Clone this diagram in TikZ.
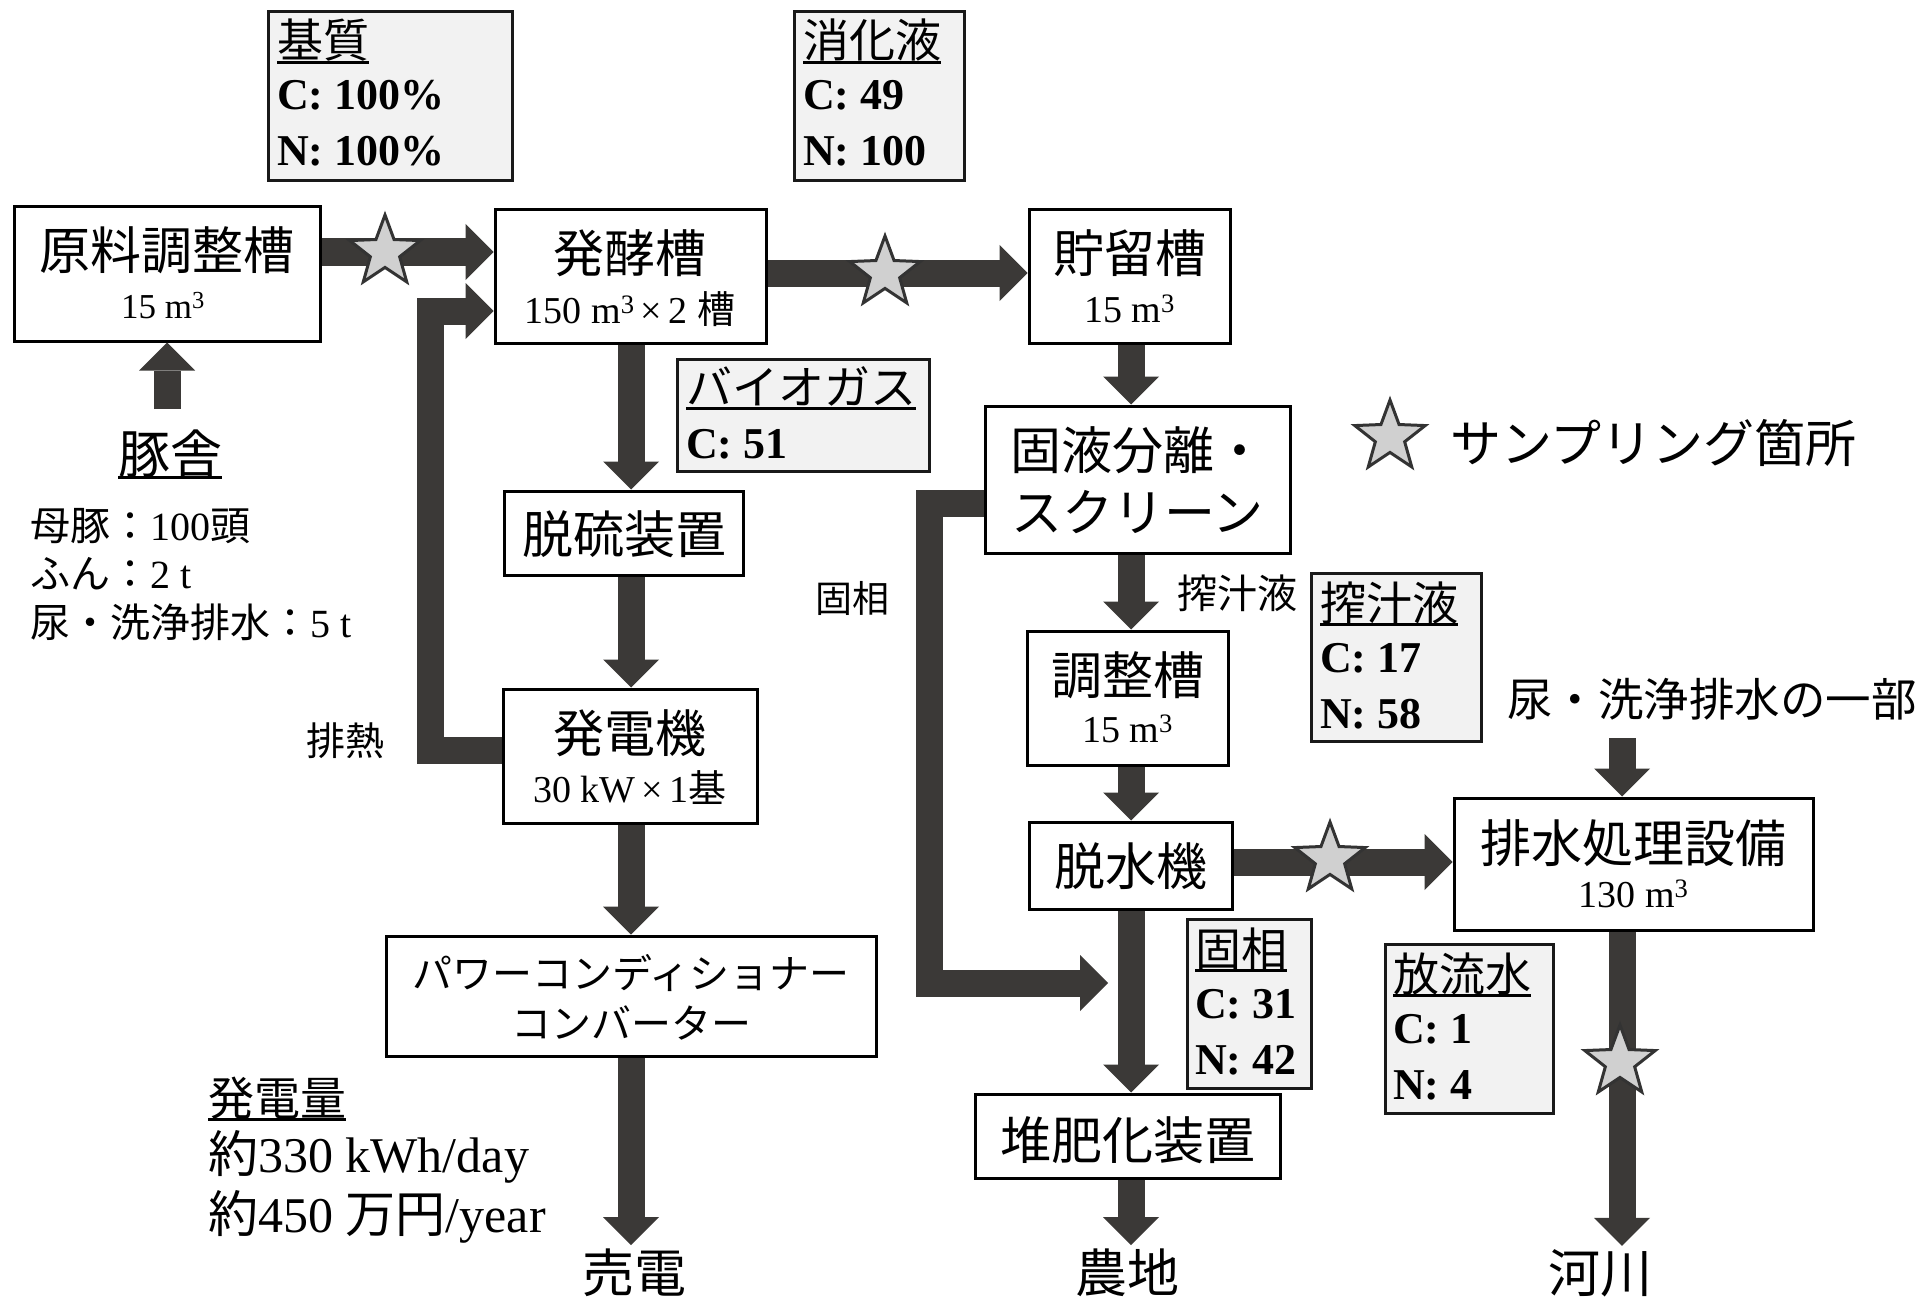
\documentclass[tikz,border=0pt]{standalone}
\usepackage{fontspec}
\setmainfont{Liberation Serif}
\newfontfamily\cjk{Noto Sans CJK JP}
\usetikzlibrary{arrows.meta,shapes.geometric}
\definecolor{arrowc}{RGB}{59,57,55}
\definecolor{boxgray}{RGB}{242,242,242}
\definecolor{stargray}{RGB}{208,208,208}
\newcommand\cj[1]{{\cjk #1}}
\newsavebox\ulsbox
\newcommand\myul[1]{\sbox\ulsbox{#1}\rlap{\rule[-6pt]{\wd\ulsbox}{3pt}}\usebox\ulsbox}
\tikzset{
  proc/.style={draw=black, line width=3pt, fill=white, inner sep=0pt, rectangle},
  dbox/.style={draw=black!90, line width=3pt, fill=boxgray, inner sep=0pt, rectangle, anchor=north west},
  flow/.style={draw=arrowc, line width=27pt, line cap=butt, line join=miter,
    -{Triangle[length=28pt,width=56pt,line width=0pt]}},
  sstar/.style={star, star points=5, star point ratio=2.4, minimum size=74pt, inner sep=0pt,
    draw=black!80, line width=3pt, fill=stargray},
  lbig/.style={font=\fontsize{51}{60}\selectfont, inner sep=0pt, anchor=base},
  lsub/.style={font=\fontsize{38}{44}\selectfont, inner sep=0pt, anchor=base},
  dtitle/.style={font=\fontsize{46}{54}\selectfont, inner sep=0pt, anchor=base west},
  dline/.style={font=\fontsize{44}{52}\selectfont\bfseries, inner sep=0pt, anchor=base west},
  lnote/.style={font=\fontsize{40}{46}\selectfont, inner sep=0pt},
}
\begin{document}
\begin{tikzpicture}[x=1pt,y=-1pt]
\useasboundingbox[fill=white] (0,0) rectangle (1925,1300);

% ---------- process boxes ----------
\node[proc, minimum width=306pt, minimum height=134pt] (genryo) at (167,274) {};
\node[proc, minimum width=271pt, minimum height=133pt] (hakko) at (630.5,276.5) {};
\node[proc, minimum width=201pt, minimum height=133pt] (chozo) at (1129.5,276.5) {};
\node[proc, minimum width=239pt, minimum height=84pt] (datsuryu) at (623.5,533) {};
\node[proc, minimum width=254pt, minimum height=134pt] (hatsuden) at (630,756) {};
\node[proc, minimum width=490pt, minimum height=120pt] (powercon) at (631,996) {};
\node[proc, minimum width=305pt, minimum height=147pt] (koeki) at (1137.5,479.5) {};
\node[proc, minimum width=201pt, minimum height=134pt] (chosei) at (1127.5,698) {};
\node[proc, minimum width=203pt, minimum height=87pt] (dassui) at (1130.5,865.5) {};
\node[proc, minimum width=359pt, minimum height=132pt] (haisui) at (1633.5,864) {};
\node[proc, minimum width=305pt, minimum height=84pt] (taihi) at (1127.5,1136) {};

% ---------- box texts ----------
\node[lbig] (genryo-t) at (167,269.5) {\cj{原料調整槽}};
\node[lsub, font=\fontsize{35}{40}\selectfont] (genryo-s) at (163,318) {15 m\textsuperscript{3}};
\node[lbig] (hakko-t) at (630,272.5) {\cj{発酵槽}};
\node[lsub] (hakko-s) at (630,323) {150 m\textsuperscript{3}\,×\,2 \cj{槽}};
\node[lbig] (chozo-t) at (1129.5,272.5) {\cj{貯留槽}};
\node[lsub] (chozo-s) at (1129.5,322) {15 m\textsuperscript{3}};
\node[lbig] (datsuryu-t) at (624,553) {\cj{脱硫装置}};
\node[lbig] (hatsuden-t) at (630,752.5) {\cj{発電機}};
\node[lsub] (hatsuden-s) at (630,802) {30 kW\,×\,1\cj{基}};
\node[lsub, font=\fontsize{40}{46}\selectfont] (powercon-t1) at (631,988) {\cj{パワーコンディショナー}};
\node[lsub, font=\fontsize{40}{46}\selectfont] (powercon-t2) at (631,1038) {\cj{コンバーター}};
\node[lbig] (koeki-t1) at (1137.5,469) {\cj{固液分離・}};
\node[lbig] (koeki-t2) at (1137.5,531) {\cj{スクリーン}};
\node[lbig] (chosei-t) at (1127.5,694.5) {\cj{調整槽}};
\node[lsub] (chosei-s) at (1127.5,742) {15 m\textsuperscript{3}};
\node[lbig] (dassui-t) at (1130.5,885) {\cj{脱水機}};
\node[lbig] (haisui-t) at (1633.5,862) {\cj{排水処理設備}};
\node[lsub] (haisui-s) at (1633.5,907) {130 m\textsuperscript{3}};
\node[lbig] (taihi-t) at (1127.5,1159) {\cj{堆肥化装置}};

% ---------- data boxes ----------
\node[dbox, minimum width=244pt, minimum height=169pt] (kishitsu) at (267,10) {};
\node[dtitle] (kishitsu-t) at (277,58) {\myul{\cj{基質}}};
\node[dline] (kishitsu-c) at (277,110) {C: 100\%};
\node[dline] (kishitsu-n) at (277,166) {N: 100\%};

\node[dbox, minimum width=170pt, minimum height=169pt] (shoka) at (793,10) {};
\node[dtitle] (shoka-t) at (803,58) {\myul{\cj{消化液}}};
\node[dline] (shoka-c) at (803,110) {C: 49};
\node[dline] (shoka-n) at (803,166) {N: 100};

\node[dbox, minimum width=252pt, minimum height=112pt] (biogas) at (676,358) {};
\node[dtitle] (biogas-t) at (686,404) {\myul{\cj{バイオガス}}};
\node[dline] (biogas-c) at (686,458) {C: 51};

\node[dbox, minimum width=170pt, minimum height=168pt] (sakuju) at (1310,572) {};
\node[dtitle] (sakuju-t) at (1320,620) {\myul{\cj{搾汁液}}};
\node[dline] (sakuju-c) at (1320,672) {C: 17};
\node[dline] (sakuju-n) at (1320,728) {N: 58};

\node[dbox, minimum width=124pt, minimum height=169pt] (koso) at (1186,918) {};
\node[dtitle] (koso-t) at (1195,966) {\myul{\cj{固相}}};
\node[dline] (koso-c) at (1195,1018) {C: 31};
\node[dline] (koso-n) at (1195,1074) {N: 42};

\node[dbox, minimum width=168pt, minimum height=169pt] (horyu) at (1384,943) {};
\node[dtitle] (horyu-t) at (1393,991) {\myul{\cj{放流水}}};
\node[dline] (horyu-c) at (1393,1043) {C: 1};
\node[dline] (horyu-n) at (1393,1099) {N: 4};

% ---------- free texts ----------
\node[lbig, font=\fontsize{52}{60}\selectfont] (tonsha) at (170,473) {\myul{\cj{豚舎}}};
\node[lnote, anchor=base west] (info1) at (30,540) {\cj{母豚：}100\cj{頭}};
\node[lnote, anchor=base west] (info2) at (30,588) {\cj{ふん：}2 t};
\node[lnote, anchor=base west] (info3) at (30,637) {\cj{尿・洗浄排水：}5 t};
\node[lnote, anchor=base, font=\fontsize{39}{46}\selectfont] (hainetsu) at (345,755) {\cj{排熱}};
\node[lnote, anchor=base, font=\fontsize{37}{44}\selectfont] (koso-l) at (852,612) {\cj{固相}};
\node[lnote, anchor=base, font=\fontsize{40}{46}\selectfont] (sakuju-l) at (1237,608) {\cj{搾汁液}};
\node[lnote, anchor=base west, font=\fontsize{45.5}{52}\selectfont] (nyo) at (1507,716) {\cj{尿・洗浄排水の一部}};
\node[lnote, anchor=base west, font=\fontsize{51}{58}\selectfont] (legend-t) at (1450,462) {\cj{サンプリング箇所}};
\node[lnote, anchor=base west, font=\fontsize{46}{54}\selectfont] (ryo-t) at (208,1115) {\myul{\cj{発電量}}};
\node[lnote, anchor=base west, font=\fontsize{50}{56}\selectfont] (ryo-1) at (208,1172) {\cj{約}330 kWh/day};
\node[lnote, anchor=base west, font=\fontsize{50}{56}\selectfont] (ryo-2) at (208,1232) {\cj{約}450 \cj{万円}/year};
\node[lbig, font=\fontsize{52}{60}\selectfont] (baiden) at (634,1292) {\cj{売電}};
\node[lbig, font=\fontsize{52}{60}\selectfont] (nochi) at (1127,1292) {\cj{農地}};
\node[lbig, font=\fontsize{52}{60}\selectfont] (kasen) at (1600,1292) {\cj{河川}};

% ---------- helper coordinates ----------
\coordinate (s1) at (385,252);
\coordinate (s2) at (885,273);
\coordinate (s3) at (1330,862);
\coordinate (colL) at (631,0);
\coordinate (colR) at (1131,0);
\coordinate (colW) at (1622,0);
\coordinate (tonshaTop) at (167,409);
\coordinate (h1) at (430,750);
\coordinate (h2) at (430,311);
\coordinate (k1) at (929,503);
\coordinate (k2) at (929,983);
\coordinate (k3) at (1108,983);
\coordinate (nyoB) at (1622,738);

% ---------- connectors ----------
\draw[flow] (genryo.south |- tonshaTop) -- (genryo.south);
\draw[flow] (genryo.east |- s1) -- (hakko.west |- s1);
\draw[flow] (hakko.east |- s2) -- (chozo.west |- s2);
\draw[flow] (colL |- hakko.south) -- (colL |- datsuryu.north);
\draw[flow] (colL |- datsuryu.south) -- (colL |- hatsuden.north);
\draw[flow] (colL |- hatsuden.south) -- (colL |- powercon.north);
\draw[flow, shorten >=3pt] (colL |- powercon.south) -- (colL |- baiden.north);
\draw[flow] (hatsuden.west |- h1) -- (h1) -- (h2) -- (hakko.west |- h2);
\draw[flow] (colR |- chozo.south) -- (colR |- koeki.north);
\draw[flow] (colR |- koeki.south) -- (colR |- chosei.north);
\draw[flow] (colR |- chosei.south) -- (colR |- dassui.north);
\draw[flow] (colR |- dassui.south) -- (colR |- taihi.north);
\draw[flow, shorten >=3pt] (colR |- taihi.south) -- (colR |- nochi.north);
\draw[flow] (koeki.west |- k1) -- (k1) -- (k2) -- (k3);
\draw[flow] (dassui.east |- s3) -- (haisui.west |- s3);
\draw[flow] (nyoB) -- (nyoB |- haisui.north);
\draw[flow, shorten >=3pt] (colW |- haisui.south) -- (colW |- kasen.north);

% ---------- sampling stars ----------
\node[sstar] (star1) at (s1) {};
\node[sstar] (star2) at (s2) {};
\node[sstar] (star3) at (1330,859) {};
\node[sstar] (star4) at (1620,1062) {};
\node[sstar] (legend-s) at (1390,437) {};
\end{tikzpicture}
\end{document}
